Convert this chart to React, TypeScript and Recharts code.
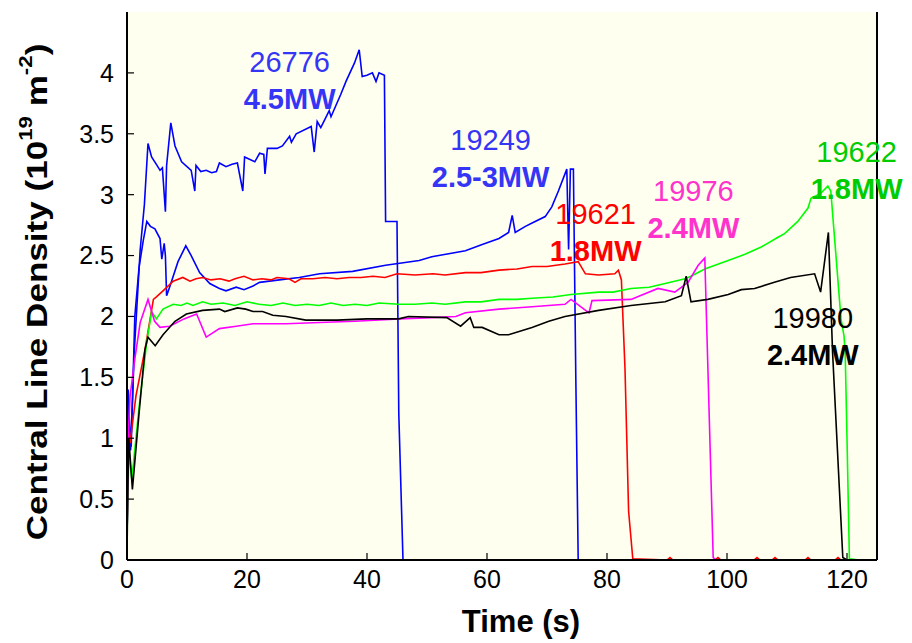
import React from "react";
import { LineChart, Line, XAxis, YAxis, CartesianGrid, ReferenceDot, Label } from "recharts";

// [time (s), central line density (1e19 m^-2)]
const shot26776 = [
  [0, 0.3], [0.2, 1.4], [0.6, 0.9], [1.2, 1.7], [2.2, 2.55], [2.9, 2.92], [3.5, 3.42], [4.1, 3.31],
  [5.0, 3.24], [5.5, 3.2], [5.9, 3.22], [6.4, 2.86], [6.6, 3.24], [7.3, 3.59], [8.0, 3.4], [9.1, 3.27],
  [10.7, 3.2], [11.3, 3.03], [11.5, 3.24], [12.3, 3.19], [13.2, 3.2], [14.1, 3.18], [14.9, 3.19],
  [15.4, 3.26], [16.5, 3.23], [17.5, 3.25], [18.4, 3.26], [19.3, 3.03], [19.6, 3.31], [21.3, 3.27],
  [22.1, 3.34], [22.8, 3.33], [23.0, 3.17], [23.4, 3.38], [25.0, 3.38], [25.9, 3.4], [27.1, 3.48],
  [27.4, 3.43], [28.2, 3.5], [30.7, 3.56], [31.2, 3.35], [31.7, 3.6], [32.3, 3.55], [32.9, 3.61],
  [33.7, 3.69], [34.0, 3.64], [34.8, 3.73], [35.6, 3.82], [36.5, 3.93], [37.9, 4.08], [38.7, 4.19],
  [39.2, 3.97], [40.0, 3.98], [40.9, 4.0], [41.5, 3.93], [42.0, 4.0], [42.9, 3.98], [43.1, 2.78],
  [45.0, 2.78], [45.3, 1.2], [46.0, 0],
];
const shot19249 = [
  [0, 0.2], [0.3, 1.0], [0.7, 0.93], [1.3, 2.0], [2.0, 2.4], [2.7, 2.62], [3.3, 2.78], [3.9, 2.74],
  [4.65, 2.72], [5.5, 2.64], [5.8, 2.47], [6.2, 2.6], [6.4, 2.5], [6.6, 2.17], [7.1, 2.24], [8.5, 2.45],
  [9.8, 2.58], [10.7, 2.5], [12.1, 2.36], [13.8, 2.27], [15.4, 2.23], [16.5, 2.21], [18.2, 2.24],
  [19.5, 2.22], [21, 2.25], [22.1, 2.28], [25.4, 2.3], [28.7, 2.32], [32.1, 2.35], [37.6, 2.37],
  [43.1, 2.42], [48.7, 2.46], [50.8, 2.49], [56.4, 2.54], [59.2, 2.59], [62, 2.64], [63.6, 2.69],
  [64.2, 2.83], [64.7, 2.69], [66.4, 2.74], [67.6, 2.77], [69.7, 2.82], [70.8, 2.9], [71.9, 3.03],
  [73.3, 3.21], [73.6, 2.55], [73.9, 3.21], [74.4, 3.21], [74.8, 1.5], [75.2, 0],
];
const shot19621 = [
  [0, 0.25], [0.3, 1.0], [0.5, 0.96], [1.5, 1.35], [3, 1.73], [4.4, 2.14], [4.9, 2.16], [6, 2.21],
  [7.7, 2.29], [9.3, 2.32], [10.5, 2.29], [11.5, 2.31], [12.6, 2.32], [14, 2.3], [15.5, 2.31], [17, 2.29],
  [18, 2.31], [19.5, 2.33], [21, 2.3], [22.5, 2.31], [24, 2.3], [25, 2.32], [27, 2.31], [28, 2.28],
  [29, 2.31], [31, 2.31], [33, 2.32], [35, 2.31], [37, 2.32], [39, 2.32], [41, 2.33], [43, 2.32],
  [45, 2.35], [48, 2.34], [51, 2.35], [53, 2.34], [56.4, 2.36], [59, 2.36], [62, 2.38], [65, 2.39],
  [67.5, 2.41], [70, 2.41], [73, 2.43], [75.2, 2.45], [76.4, 2.35], [78.6, 2.34], [81.3, 2.35],
  [81.9, 2.38], [82.4, 2.3], [83, 1.57], [83.6, 0.4], [84.3, 0.01], [90, 0], [90.5, 0.02], [91, 0],
  [98, 0], [98.5, 0.02], [99, 0], [104.5, 0], [105, 0.02], [105.5, 0], [107.5, 0], [108, 0.02],
  [108.5, 0], [113, 0], [113.5, 0.02], [114, 0], [118, 0], [118.5, 0.02], [119, 0], [124, 0],
];
const shot19622 = [
  [0, 0.1], [0.3, 0.9], [0.8, 0.66], [2, 1.25], [3.3, 1.79], [4.1, 2.04], [4.9, 1.98], [6, 2.06],
  [7.7, 2.1], [9, 2.09], [10, 2.11], [11, 2.09], [12.6, 2.12], [14, 2.1], [16, 2.11], [18, 2.09],
  [20, 2.12], [22, 2.1], [24, 2.09], [26, 2.11], [28, 2.09], [30, 2.1], [32, 2.09], [34, 2.11],
  [36, 2.09], [38, 2.1], [40, 2.09], [42, 2.11], [45.3, 2.1], [48, 2.1], [50.8, 2.11], [53, 2.1],
  [56.4, 2.12], [59, 2.12], [62, 2.14], [65, 2.14], [67.5, 2.15], [71, 2.16], [74, 2.18], [78.6, 2.2],
  [81, 2.2], [84, 2.23], [87, 2.24], [89.7, 2.27], [93, 2.31], [94, 2.33], [96.3, 2.39], [98, 2.42],
  [100.2, 2.46], [103, 2.51], [105.7, 2.57], [108.5, 2.65], [109.6, 2.68], [111.8, 2.78], [113.5, 2.89],
  [114, 2.97], [115.6, 3.01], [116.8, 3.07], [117.3, 3.03], [117.9, 2.66], [119, 1.98], [119.5, 1.84],
  [119.7, 1.7], [120.0, 1.0], [120.4, 0.01], [122, 0], [124, 0],
];
const shot19976 = [
  [0, 0], [0.2, 1.0], [0.5, 1.34], [1.3, 1.65], [2.2, 1.95], [3.5, 2.14], [4.6, 1.96], [5.5, 1.91],
  [7.1, 1.92], [9.5, 1.98], [11.6, 2.02], [13.2, 1.83], [15.4, 1.9], [18.2, 1.92], [21, 1.94],
  [26.5, 1.94], [32.1, 1.95], [38, 1.96], [45.3, 1.98], [50.8, 1.99], [54.8, 2.0], [56.4, 2.03],
  [62, 2.06], [67.5, 2.08], [73, 2.1], [74, 2.14], [75.6, 2.08], [77, 2.03], [77.5, 2.13], [84, 2.14],
  [88.5, 2.23], [91.3, 2.2], [93.5, 2.28], [95.2, 2.42], [96.3, 2.48], [97.7, 0.02], [98.2, 0],
];
const shot19980 = [
  [0, 0.2], [0.3, 1.0], [0.9, 0.58], [2, 1.2], [3, 1.73], [3.5, 1.83], [4.7, 1.76], [6, 1.85],
  [8, 1.96], [9.9, 2.02], [12.6, 2.05], [15.4, 2.06], [16.3, 2.04], [18.4, 2.07], [19.8, 2.06],
  [21, 2.04], [22.6, 2.04], [24.3, 2.01], [26.5, 2.0], [29.8, 1.97], [35, 1.97], [40, 1.98],
  [45.3, 1.98], [46.9, 2.0], [53.3, 1.99], [55.6, 1.92], [57.2, 1.99], [57.8, 1.91], [59.2, 1.91],
  [62, 1.85], [63.6, 1.85], [67.5, 1.91], [70.3, 1.96], [73, 2.0], [78.6, 2.05], [84, 2.09],
  [89.7, 2.12], [92.4, 2.17], [93.2, 2.33], [94, 2.12], [96.8, 2.14], [100.2, 2.18], [102.4, 2.22],
  [104.6, 2.23], [107.9, 2.28], [110.6, 2.32], [114.6, 2.35], [115.6, 2.2], [116.9, 2.69],
  [117.6, 1.7], [119.3, 0.02], [120, 0], [124, 0],
];

const xTicks = [0, 20, 40, 60, 80, 100, 120];
const yTicks = [0, 0.5, 1, 1.5, 2, 2.5, 3, 3.5, 4];

const series = [
  { name: "26776", data: shot26776, color: "#0000ff" },
  { name: "19249", data: shot19249, color: "#0000ff" },
  { name: "19621", data: shot19621, color: "#ff0000" },
  { name: "19622", data: shot19622, color: "#00ff00" },
  { name: "19976", data: shot19976, color: "#ff00ff" },
  { name: "19980", data: shot19980, color: "#000000" },
];

// shot annotations: label anchor in data coordinates
const notes = [
  { shot: "26776", power: "4.5MW", t: 27.1, n: 4.09, color: "#3535f5" },
  { shot: "19249", power: "2.5-3MW", t: 60.6, n: 3.45, color: "#3535f5" },
  { shot: "19621", power: "1.8MW", t: 78.1, n: 2.84, color: "#ff0000" },
  { shot: "19976", power: "2.4MW", t: 94.4, n: 3.03, color: "#ff33cc" },
  { shot: "19622", power: "1.8MW", t: 121.6, n: 3.35, color: "#00cc00" },
  { shot: "19980", power: "2.4MW", t: 114.3, n: 1.99, color: "#000000" },
];

const FONT = "'Liberation Sans', Arial, Helvetica, sans-serif";
const toRows = (d: number[][]) => d.map(([t, n]) => ({ t, n }));

export default function App() {
  return (
    <div style={{ width: 912, height: 643, background: "#fff" }}>
      <style>{"body{margin:0}"}</style>
      <LineChart width={912} height={643} margin={{ top: 12, right: 0, bottom: 0, left: 0 }}>
        <CartesianGrid horizontal={false} vertical={false} fill="#fffff0" stroke="none" />
        <XAxis
          type="number"
          dataKey="t"
          domain={[0, 125]}
          ticks={xTicks}
          allowDataOverflow
          height={83}
          tickSize={-7}
          tickMargin={17}
          axisLine={{ stroke: "#000", strokeWidth: 2 }}
          tickLine={{ stroke: "#000", strokeWidth: 1.2 }}
          tick={{ fill: "#000", fontSize: 25, fontFamily: FONT }}
        >
          <Label
            content={({ viewBox }: any) => (
              <text
                x={viewBox.x + viewBox.width / 2 + 19}
                y={viewBox.y + 61}
                textAnchor="middle"
                dominantBaseline="central"
                fontSize={31}
                fontWeight="bold"
                fontFamily={FONT}
                fill="#000"
              >
                Time (s)
              </text>
            )}
          />
        </XAxis>
        <XAxis
          xAxisId="top"
          orientation="top"
          type="number"
          domain={[0, 125]}
          ticks={xTicks}
          height={0}
          tickSize={-7}
          tick={false}
          axisLine={{ stroke: "#000", strokeWidth: 2 }}
          tickLine={{ stroke: "#000", strokeWidth: 1.2 }}
        />
        <YAxis
          type="number"
          domain={[0, 4.5]}
          ticks={yTicks}
          allowDataOverflow
          width={127}
          tickSize={-7}
          tickMargin={20}
          axisLine={{ stroke: "#000", strokeWidth: 2 }}
          tickLine={{ stroke: "#000", strokeWidth: 1.2 }}
          tick={{ fill: "#000", fontSize: 25, fontFamily: FONT }}
        >
          <Label
            content={({ viewBox }: any) => {
              const cx = viewBox.x + 36;
              const cy = viewBox.y + viewBox.height / 2 + 6;
              return (
                <g transform={`translate(${cx} ${cy}) rotate(-90) scale(1.17 1)`}>
                  <text
                    x={0}
                    y={0}
                    textAnchor="middle"
                    dominantBaseline="central"
                    fontSize={30}
                    fontWeight="bold"
                    fontFamily={FONT}
                    fill="#000"
                  >
                    Central Line Density (10
                    <tspan dy={-11} fontSize={19}>19</tspan>
                    <tspan dy={11}> m</tspan>
                    <tspan dy={-11} fontSize={19}>-2</tspan>
                    <tspan dy={11}>)</tspan>
                  </text>
                </g>
              );
            }}
          />
        </YAxis>
        <YAxis
          yAxisId="right"
          orientation="right"
          type="number"
          domain={[0, 4.5]}
          ticks={yTicks}
          width={35}
          tickSize={-7}
          tick={false}
          axisLine={{ stroke: "#000", strokeWidth: 2 }}
          tickLine={{ stroke: "#000", strokeWidth: 1.2 }}
        />
        {series.map((s) => (
          <Line
            key={s.name}
            data={toRows(s.data)}
            dataKey="n"
            type="linear"
            stroke={s.color}
            strokeWidth={1.6}
            dot={false}
            isAnimationActive={false}
          />
        ))}
        {notes.map((a) => (
          <ReferenceDot
            key={a.shot}
            x={a.t}
            y={a.n}
            r={0}
            shape={(p: any) => (
              <g fontFamily={FONT} fill={a.color} textAnchor="middle">
                <text x={p.cx} y={p.cy} dominantBaseline="central" fontSize={29}>
                  {a.shot}
                </text>
                <text x={p.cx} y={p.cy + 37} dominantBaseline="central" fontSize={29} fontWeight="bold">
                  {a.power}
                </text>
              </g>
            )}
          />
        ))}
      </LineChart>
    </div>
  );
}
